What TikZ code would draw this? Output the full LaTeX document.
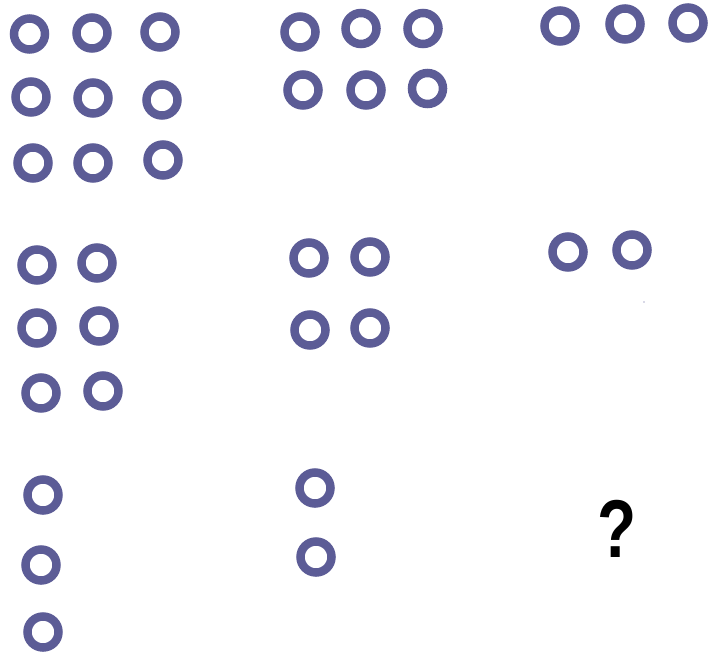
\documentclass[tikz,border=0pt]{standalone}
\usepackage{fontspec}
\setmainfont{Liberation Sans}
\definecolor{ringblue}{HTML}{5C5C96}
\begin{document}
\begin{tikzpicture}[x=1pt,y=-1pt,
  ring/.style={circle,draw=ringblue,line width=8.5pt,minimum size=31pt,inner sep=0pt}]
\useasboundingbox (0,0) rectangle (709,655);
% panel 1
\node[ring] (a1) at (29.5,34) {};
\node[ring] (a2) at (92,33) {};
\node[ring] (a3) at (160,32) {};
\node[ring] (a4) at (31,97) {};
\node[ring] (a5) at (93,98) {};
\node[ring] (a6) at (162,100) {};
\node[ring] (a7) at (33,163) {};
\node[ring] (a8) at (93,163) {};
\node[ring] (a9) at (163,160) {};
% panel 2
\node[ring] (b1) at (300,32) {};
\node[ring] (b2) at (361,28.5) {};
\node[ring] (b3) at (423,28.5) {};
\node[ring] (b4) at (303,90) {};
\node[ring] (b5) at (366,90) {};
\node[ring] (b6) at (427.5,88.5) {};
% panel 3
\node[ring] (c1) at (560,26) {};
\node[ring] (c2) at (625,24) {};
\node[ring] (c3) at (688,23) {};
% panel 4
\node[ring] (d1) at (37,265) {};
\node[ring] (d2) at (97,263) {};
\node[ring] (d3) at (37,328) {};
\node[ring] (d4) at (99,326) {};
\node[ring] (d5) at (41,393) {};
\node[ring] (d6) at (103,391) {};
% panel 5
\node[ring] (e1) at (309,258) {};
\node[ring] (e2) at (370,257) {};
\node[ring] (e3) at (310,330) {};
\node[ring] (e4) at (370,328) {};
% panel 6
\node[ring] (f1) at (568,252) {};
\node[ring] (f2) at (632,250) {};
\fill[ringblue] (644,302) circle (0.7);
% panel 7
\node[ring] (g1) at (43,495) {};
\node[ring] (g2) at (41,565) {};
\node[ring] (g3) at (43,632) {};
% panel 8
\node[ring] (h1) at (315,488) {};
\node[ring] (h2) at (316,557) {};
% panel 9
\node[inner sep=0pt,font=\fontsize{82}{82}\selectfont\bfseries] (q) at (617,529) {\scalebox{0.78}[1]{?}};
\end{tikzpicture}
\end{document}
